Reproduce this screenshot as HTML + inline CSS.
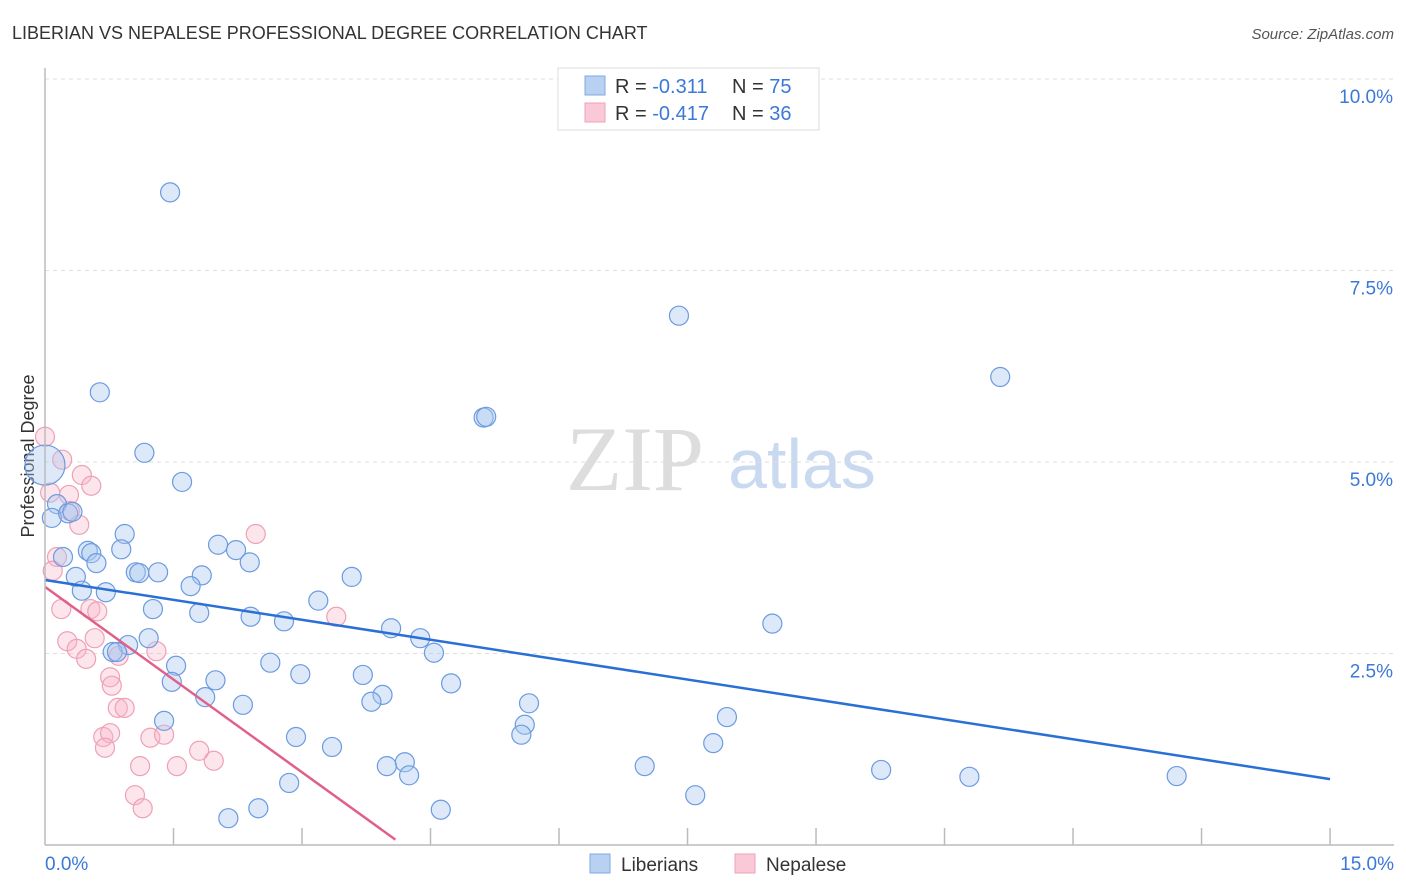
<!DOCTYPE html>
<html><head><meta charset="utf-8"><style>
body{margin:0;background:#fff;font-family:"Liberation Sans",sans-serif}
</style></head><body>
<svg id="c" width="1406" height="892" xmlns="http://www.w3.org/2000/svg" style="display:block">
<text x="12" y="39" font-size="18" fill="#333">LIBERIAN VS NEPALESE PROFESSIONAL DEGREE CORRELATION CHART</text>
<text x="1394" y="39" font-size="15" fill="#555" font-style="italic" text-anchor="end">Source: ZipAtlas.com</text>
<text x="635" y="490" font-size="92" fill="#ddd" font-family="Liberation Serif,serif" text-anchor="middle">ZIP</text>
<text x="802" y="488" font-size="70" fill="#c9d9ef" text-anchor="middle">atlas</text>
<text transform="translate(34,456) rotate(-90)" font-size="18" fill="#333" text-anchor="middle">Professional Degree</text>
<g id="grid"></g><g id="pts"></g><g id="lines"></g>
<line x1="45" y1="68" x2="45" y2="845" stroke="#bbb" stroke-width="1.5"/>
<line x1="45" y1="845" x2="1394" y2="845" stroke="#bbb" stroke-width="1.5"/>
<text x="45" y="870" font-size="19" fill="#3b78d8">0.0%</text>
<text x="1394" y="870" font-size="19" fill="#3b78d8" text-anchor="end">15.0%</text>
<g>
<rect x="558" y="68" width="261" height="62" fill="#fff" stroke="#ddd"/>
<rect x="585" y="76" width="20" height="19" fill="#b8d1f3" stroke="#7fa8e3"/>
<rect x="585" y="103" width="20" height="19" fill="#fac9d7" stroke="#f0a0b8"/>
<text x="615" y="93" font-size="20" fill="#333">R = <tspan fill="#3b78d8"> -0.311</tspan><tspan x="732">N = </tspan><tspan fill="#3b78d8">75</tspan></text>
<text x="615" y="120" font-size="20" fill="#333">R = <tspan fill="#3b78d8">-0.417</tspan><tspan x="732">N = </tspan><tspan fill="#3b78d8">36</tspan></text>
</g>
<g>
<rect x="590" y="854" width="20" height="19" fill="#b8d1f3" stroke="#7fa8e3"/>
<text x="621" y="871" font-size="19" fill="#333">Liberians</text>
<rect x="735" y="854" width="20" height="19" fill="#fac9d7" stroke="#f0a0b8"/>
<text x="766" y="871" font-size="19" fill="#333">Nepalese</text>
</g>
</svg>
<script>
const yTicks=[2.5,5.0,7.5,10.0];
const xTicks=[1.5,3,4.5,6,7.5,9,10.5,12,13.5,15];
const blueX=[0,1.46,7.40,11.15,5.12,5.15,0.64,1.16,1.60,0.14,0.08,0.27,0.32,0.93,0.89,0.50,0.54,0.21,0.60,0.36,0.43,0.71,1.06,1.10,1.32,2.02,2.23,2.39,1.83,1.70,3.58,3.19,1.26,1.80,2.40,2.79,4.04,4.38,8.49,1.21,4.54,0.97,0.79,0.84,1.53,2.63,1.48,1.99,2.98,3.71,4.74,1.87,3.94,3.81,5.65,2.31,1.39,7.96,5.60,5.56,2.93,7.80,3.35,4.20,3.99,4.25,7.00,9.76,10.79,13.21,2.85,7.59,2.49,4.62,2.14];
const blueY=[4.96,8.52,6.91,6.11,5.58,5.59,5.91,5.12,4.74,4.45,4.27,4.33,4.35,4.06,3.86,3.84,3.81,3.76,3.68,3.50,3.32,3.30,3.56,3.55,3.56,3.92,3.85,3.69,3.52,3.38,3.50,3.19,3.08,3.03,2.98,2.92,2.83,2.70,2.89,2.70,2.51,2.61,2.52,2.52,2.34,2.38,2.13,2.15,2.23,2.22,2.11,1.93,1.96,1.87,1.85,1.83,1.62,1.67,1.57,1.44,1.41,1.33,1.28,1.08,1.03,0.91,1.03,0.98,0.89,0.90,0.81,0.65,0.48,0.46,0.35];
const pinkX=[0,0.20,0.43,0.54,0.28,0.06,0.29,0.40,2.46,0.14,0.09,0.19,0.53,0.61,0.26,0.37,0.48,0.58,0.86,1.30,3.40,0.76,0.78,0.85,0.93,0.68,0.76,0.70,1.23,1.39,1.80,1.97,1.11,1.54,1.05,1.14];
const pinkY=[5.33,5.03,4.83,4.69,4.57,4.60,4.36,4.18,4.06,3.76,3.58,3.08,3.08,3.05,2.66,2.56,2.43,2.70,2.47,2.53,2.98,2.19,2.08,1.79,1.79,1.41,1.46,1.27,1.40,1.44,1.23,1.10,1.03,1.03,0.65,0.48];
const blueTrend=[[0,3.46],[15,0.86]];
const pinkTrend=[[0,3.37],[4.09,0.07]];
const sx=v=>45+v*85.67, sy=v=>845-v*76.6;
const NS='http://www.w3.org/2000/svg';
function mk(p,tag,a){const e=document.createElementNS(NS,tag);for(const k in a)e.setAttribute(k,a[k]);p.appendChild(e);return e;}
const grid=document.getElementById('grid'),pts=document.getElementById('pts'),lines=document.getElementById('lines');
yTicks.forEach(t=>{
 const l=mk(grid,'line',{x1:45,x2:1394,y1:sy(t),y2:sy(t),stroke:'#ddd','stroke-dasharray':'4,4'});
 
 
 const tx=mk(grid,'text',{x:1393,y:sy(t)+24,'font-size':19,fill:'#3b78d8','text-anchor':'end'});
 tx.textContent=t.toFixed(1)+'%';
 
 
});
xTicks.forEach(t=>{
 const l=mk(grid,'line',{x1:sx(t),x2:sx(t),y1:828,y2:845,stroke:'#bbb','stroke-width':1.5});
 
 
});
function dots(X,Y,fill,stroke,name,big){X.forEach((x,i)=>{
 const r=(big&&i===0)?20:9.5;
 const c=mk(pts,'circle',{cx:sx(x),cy:sy(Y[i]),r:r,fill:fill,stroke:stroke,'stroke-width':1.2});
 
 
});}
dots(pinkX,pinkY,'rgba(248,180,200,0.35)','#eea0b8','nepalese-point',false);
dots(blueX,blueY,'rgba(170,200,240,0.4)','#6b9be0','liberian-point',true);
function trend(T,col,name){const l=mk(lines,'line',{x1:sx(T[0][0]),y1:sy(T[0][1]),x2:sx(T[1][0]),y2:sy(T[1][1]),stroke:col,'stroke-width':2.5});
 
 }
trend(blueTrend,'#2a6fd6','liberian-trendline');
trend(pinkTrend,'#e0608a','nepalese-trendline');
</script>
</body></html>
